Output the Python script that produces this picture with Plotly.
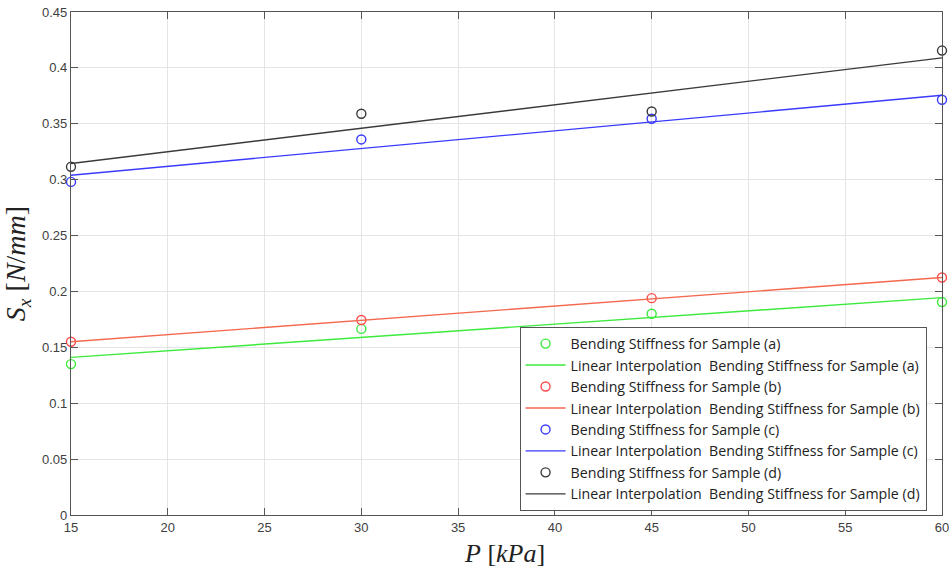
import plotly.graph_objects as go

# Inflation pressure [kPa]
pressure = [15, 30, 45, 60]

# Measured bending stiffness S_x [N/mm]
stiff_a = [0.135, 0.1665, 0.180, 0.1905]
stiff_b = [0.155, 0.1745, 0.194, 0.2125]
stiff_c = [0.298, 0.336, 0.3545, 0.3715]
stiff_d = [0.3115, 0.359, 0.361, 0.4155]

# Linear interpolation end points over the pressure range
fit_x = [15, 60]
fit_a = [0.141, 0.1945]
fit_b = [0.155, 0.2125]
fit_c = [0.304, 0.3755]
fit_d = [0.3145, 0.4090]

x_ticks = [15, 20, 25, 30, 35, 40, 45, 50, 55, 60]
y_ticks = [0, 0.05, 0.1, 0.15, 0.2, 0.25, 0.3, 0.35, 0.4, 0.45]

series = [
    ("a", stiff_a, fit_a, "#3cea3c", "#3cea3c"),
    ("b", stiff_b, fit_b, "#ff4a4a", "#f4684e"),
    ("c", stiff_c, fit_c, "#3a3aff", "#3a3aff"),
    ("d", stiff_d, fit_d, "#3a3a3a", "#3a3a3a"),
]

fig = go.Figure()
for tag, pts, fit, mcol, lcol in series:
    fig.add_trace(go.Scatter(
        x=pressure, y=pts, mode="markers", cliponaxis=False,
        name=f"Bending Stiffness for Sample ({tag})",
        marker=dict(symbol="circle-open", size=9, color=mcol, line=dict(width=1.4, color=mcol)),
    ))
    fig.add_trace(go.Scatter(
        x=fit_x, y=fit, mode="lines",
        name=f"Linear Interpolation&nbsp; Bending Stiffness for Sample ({tag})",
        line=dict(color=lcol, width=1.4),
    ))

axis_common = dict(
    showline=True, linecolor="#555555", linewidth=1.3, mirror="ticks",
    ticks="inside", ticklen=7, tickcolor="#555555", tickwidth=1.2,
    showgrid=True, gridcolor="#e4e4e4", gridwidth=1, zeroline=False,
    automargin=False, ticklabeloverflow="allow",
    tickfont=dict(family="Liberation Sans, Arial, sans-serif", size=13, color="#404040"),
)

fig.update_xaxes(
    range=[15, 60], tickvals=x_ticks, ticktext=[str(v) for v in x_ticks],
    **axis_common,
)
fig.update_yaxes(
    range=[0, 0.45], tickvals=y_ticks, ticktext=[f"{v:g}" for v in y_ticks],
    title=dict(text="<i>S<sub>x</sub></i> [<i>N</i>/<i>mm</i>]", standoff=8,
               font=dict(family="Liberation Serif, DejaVu Serif, serif", size=28, color="#222222")),
    **axis_common,
)

# x-axis title placed just under the tick labels
fig.add_annotation(
    text="<i>P</i> [<i>kPa</i>]", xref="paper", yref="paper",
    x=0.498, y=0, yshift=-22, xanchor="center", yanchor="top", showarrow=False,
    font=dict(family="Liberation Serif, DejaVu Serif, serif", size=26, color="#222222"),
)

fig.update_layout(
    width=949, height=567,
    margin=dict(l=71, r=7, t=12, b=52),
    paper_bgcolor="white", plot_bgcolor="white",
    showlegend=True,
    legend=dict(
        x=0.515, y=0.374, xanchor="left", yanchor="top",
        bgcolor="white", bordercolor="#555555", borderwidth=1,
        font=dict(family="Open Sans, Lato, sans-serif", size=14.2, color="#222222"),
        tracegroupgap=0, itemwidth=40,
    ),
)

fig.write_html("out.html")
